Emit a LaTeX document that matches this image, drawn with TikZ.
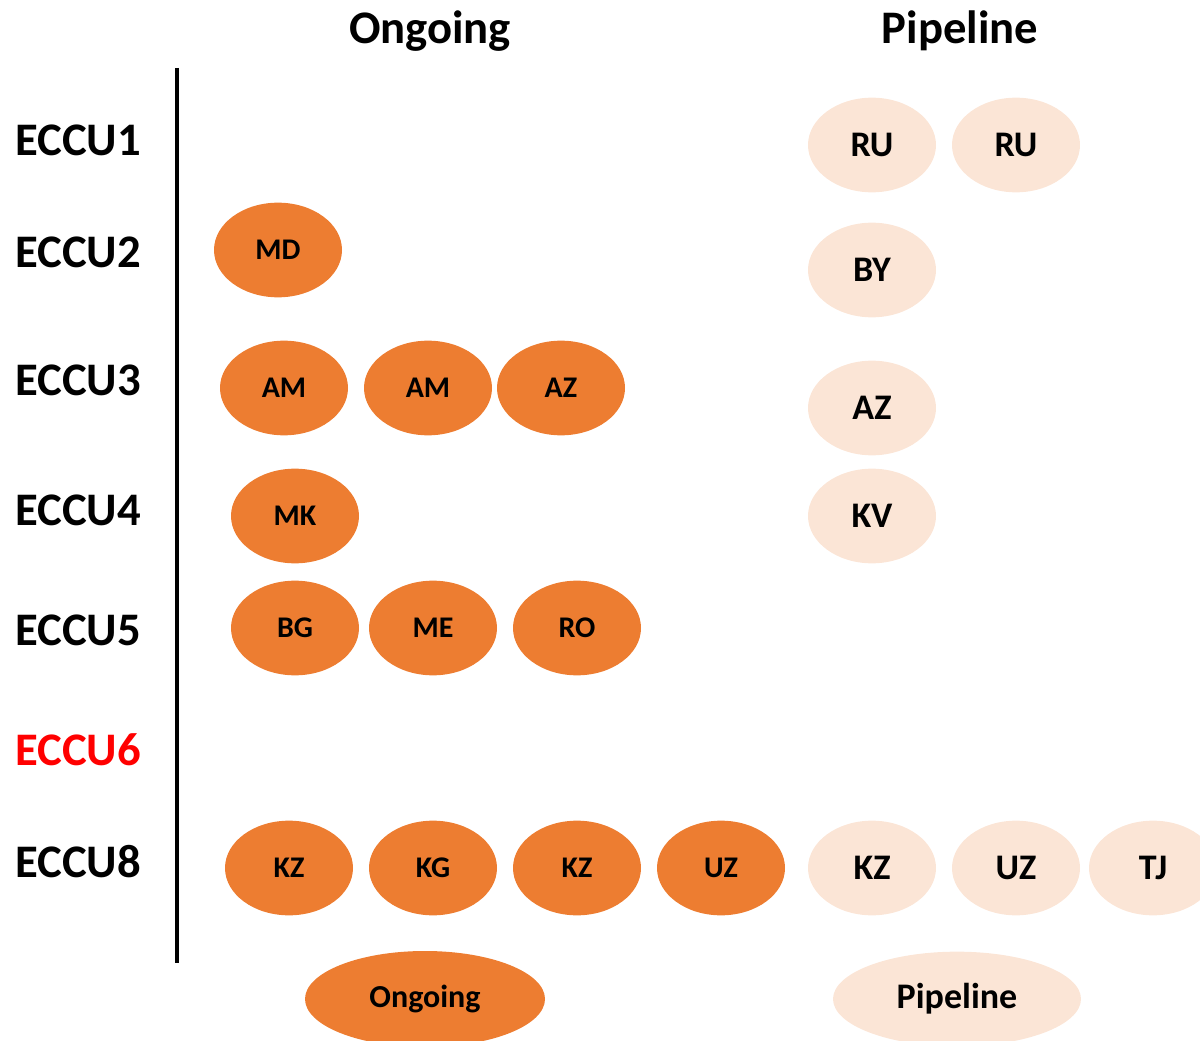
\documentclass[tikz,border=0pt]{standalone}
\usepackage{fontspec}
\setmainfont{Carlito}
\usetikzlibrary{shapes.geometric}
\definecolor{ongoingc}{HTML}{ED7D31}
\definecolor{pipelinec}{HTML}{FBE5D6}
\tikzset{
  ongoingell/.style={ellipse,fill=ongoingc,inner sep=0pt,minimum width=96pt,minimum height=71pt,font=\fontsize{22.5}{24}\bfseries},
  pipelineell/.style={ellipse,fill=pipelinec,inner sep=0pt,minimum width=96pt,minimum height=71pt,font=\fontsize{27}{29}\bfseries},
  rowlabel/.style={font=\fontsize{35}{38}\bfseries},
}
\begin{document}
\begin{tikzpicture}[x=0.75pt,y=0.75pt,yscale=-1,xscale=1]
            \useasboundingbox (0,0) rectangle (1200,1041);
            \node[rowlabel] (head1) at (430,31) {Ongoing};
            \node[rowlabel] (head2) at (960,31) {Pipeline};
            \coordinate (top) at (177,68);
            \coordinate (bot) at (177,963);
            \draw[line width=3pt] (top) -- (bot);
            \node[rowlabel] (r1) at (78,140) {ECCU1};
            \node[rowlabel] (r2) at (78,252) {ECCU2};
            \node[rowlabel] (r3) at (78,380) {ECCU3};
            \node[rowlabel] (r4) at (78,510) {ECCU4};
            \node[rowlabel] (r5) at (78,630) {ECCU5};
            \node[rowlabel,text=red] (r6) at (78,750) {ECCU6};
            \node[rowlabel] (r8) at (78,862) {ECCU8};
            % ongoing
            \node[ongoingell] (md) at (278,250) {MD};
            \node[ongoingell] (am1) at (284,388) {AM};
            \node[ongoingell] (am2) at (428,388) {AM};
            \node[ongoingell] (az1) at (561,388) {AZ};
            \node[ongoingell] (mk) at (295,516) {MK};
            \node[ongoingell] (bg) at (295,628) {BG};
            \node[ongoingell] (me) at (433,628) {ME};
            \node[ongoingell] (ro) at (577,628) {RO};
            \node[ongoingell] (kz1) at (289,868) {KZ};
            \node[ongoingell] (kg) at (433,868) {KG};
            \node[ongoingell] (kz2) at (577,868) {KZ};
            \node[ongoingell] (uz1) at (721,868) {UZ};
            % pipeline
            \node[pipelineell] (ru1) at (872,145) {RU};
            \node[pipelineell] (ru2) at (1016,145) {RU};
            \node[pipelineell] (by) at (872,270) {BY};
            \node[pipelineell] (az2) at (872,408) {AZ};
            \node[pipelineell] (kv) at (872,516) {KV};
            \node[pipelineell] (kz3) at (872,868) {KZ};
            \node[pipelineell] (uz2) at (1016,868) {UZ};
            \node[pipelineell] (tj) at (1153,868) {TJ};
            % legend
            \node[ongoingell,minimum width=180pt,minimum height=72pt,font=\fontsize{24}{26}\bfseries] (leg1) at (425,999) {Ongoing};
            \node[pipelineell,minimum width=186pt,minimum height=71pt] (leg2) at (957,999) {Pipeline};
        \end{tikzpicture}
\end{document}
